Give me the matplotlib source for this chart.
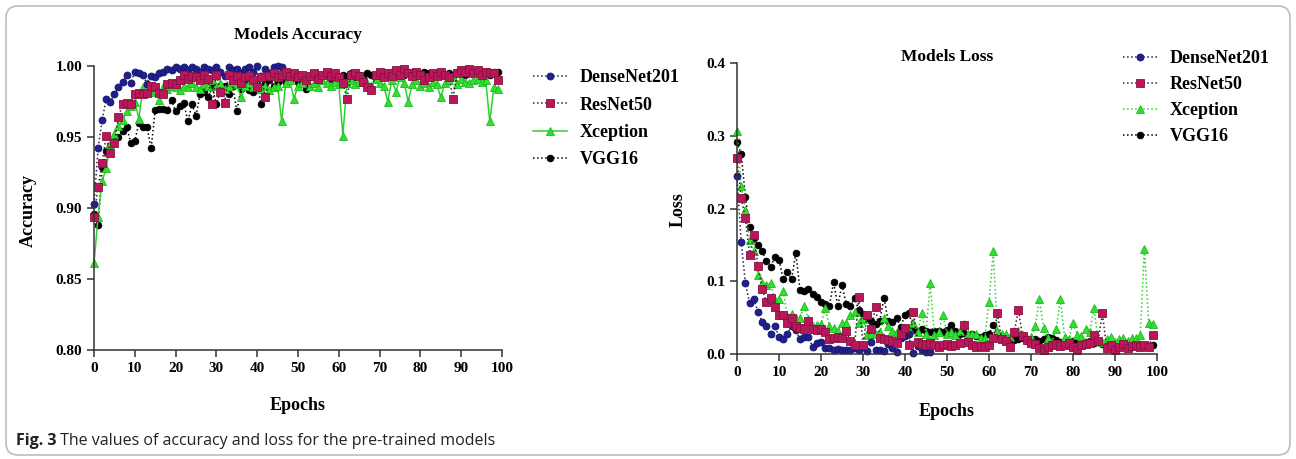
import matplotlib
matplotlib.use("Agg")
import matplotlib.pyplot as plt
from matplotlib.patches import FancyBboxPatch
from matplotlib.transforms import IdentityTransform

# ---- data ----
MODELS = ["DenseNet201", "ResNet50", "Xception", "VGG16"]

dense_acc = [0.903, 0.942, 0.962, 0.977, 0.975, 0.980, 0.985, 0.989, 0.994, 0.988,
             0.996, 0.995, 0.994, 0.987, 0.993, 0.992, 0.995, 0.996, 0.998, 0.997,
             0.999, 0.998, 0.999, 0.997, 0.999, 0.998, 0.996, 0.999, 0.998, 0.997,
             0.999, 0.996, 0.993, 0.999, 0.997, 0.998, 0.995, 0.998, 0.999, 0.996,
             1.000, 0.993, 0.998, 0.995, 0.999, 1.000, 0.999]
resnet_acc = [0.894, 0.915, 0.932, 0.951, 0.939, 0.946, 0.964, 0.973, 0.974, 0.973,
              0.980, 0.981, 0.980, 0.981, 0.986, 0.985, 0.981, 0.980, 0.987, 0.988,
              0.987, 0.990, 0.994, 0.991, 0.993, 0.992, 0.990, 0.994, 0.991, 0.973,
              0.994, 0.982, 0.974, 0.994, 0.990, 0.993, 0.988, 0.992, 0.993, 0.990,
              0.985, 0.992, 0.978, 0.993, 0.995, 0.992, 0.994, 0.996, 0.993, 0.995,
              0.992, 0.994, 0.990, 0.993, 0.995, 0.991, 0.994, 0.996, 0.993, 0.995,
              0.992, 0.988, 0.977, 0.994, 0.995, 0.993, 0.989, 0.985, 0.983, 0.994,
              0.996, 0.992, 0.995, 0.993, 0.997, 0.994, 0.998, 0.995, 0.993, 0.996,
              0.994, 0.990, 0.992, 0.995, 0.993, 0.996, 0.994, 0.992, 0.977, 0.995,
              0.997, 0.996, 0.998, 0.995, 0.997, 0.994, 0.996, 0.995, 0.995, 0.990]
xception_acc = [0.861, 0.894, 0.919, 0.928, 0.945, 0.952, 0.958, 0.962, 0.968, 0.972,
                0.975, 0.963, 0.985, 0.988, 0.982, 0.983, 0.976, 0.985, 0.984, 0.986,
                0.985, 0.983, 0.986, 0.985, 0.988, 0.985, 0.984, 0.987, 0.986, 0.990,
                0.986, 0.988, 0.984, 0.986, 0.989, 0.987, 0.978, 0.986, 0.988, 0.985,
                0.987, 0.984, 0.986, 0.983, 0.985, 0.986, 0.961, 0.988, 0.990, 0.977,
                0.986, 0.988, 0.990, 0.986, 0.988, 0.985, 0.990, 0.988, 0.986, 0.989,
                0.987, 0.951, 0.988, 0.990, 0.987, 0.989, 0.991, 0.988, 0.986, 0.991,
                0.988, 0.986, 0.975, 0.990, 0.982, 0.992, 0.988, 0.975, 0.987, 0.990,
                0.986, 0.988, 0.985, 0.989, 0.987, 0.978, 0.988, 0.990, 0.992, 0.987,
                0.991, 0.989, 0.988, 0.990, 0.991, 0.989, 0.990, 0.961, 0.985, 0.984]
vgg_acc = [0.896, 0.888, 0.929, 0.940, 0.944, 0.948, 0.950, 0.954, 0.957, 0.946,
           0.947, 0.960, 0.957, 0.957, 0.942, 0.969, 0.970, 0.970, 0.969, 0.976,
           0.968, 0.972, 0.974, 0.961, 0.973, 0.965, 0.980, 0.982, 0.978, 0.985,
           0.973, 0.983, 0.986, 0.980, 0.986, 0.968, 0.984, 0.988, 0.983, 0.982,
           0.987, 0.973, 0.988, 0.990, 0.986, 0.989, 0.991, 0.988, 0.990, 0.992,
           0.989, 0.991, 0.984, 0.992, 0.993, 0.990, 0.992, 0.994, 0.991, 0.993,
           0.992, 0.994, 0.993, 0.995, 0.992, 0.994, 0.993, 0.995, 0.994, 0.992,
           0.995, 0.993, 0.994, 0.996, 0.993, 0.995, 0.994, 0.996, 0.993, 0.995,
           0.994, 0.996, 0.995, 0.993, 0.995, 0.996, 0.994, 0.995, 0.993, 0.996,
           0.995, 0.994, 0.996, 0.995, 0.997, 0.995, 0.996, 0.994, 0.996, 0.996]

dense_loss = [0.244, 0.154, 0.097, 0.070, 0.076, 0.058, 0.044, 0.038, 0.028, 0.038,
              0.024, 0.021, 0.028, 0.038, 0.033, 0.020, 0.024, 0.023, 0.010, 0.015,
              0.016, 0.008, 0.008, 0.006, 0.007, 0.005, 0.005, 0.006, 0.008, 0.006,
              0.010, 0.004, 0.017, 0.006, 0.005, 0.004, 0.014, 0.008, 0.003, 0.022,
              0.025, 0.027, 0.002, 0.011, 0.006, 0.003, 0.003]
resnet_loss = [0.269, 0.214, 0.187, 0.136, 0.164, 0.121, 0.089, 0.072, 0.077, 0.065,
               0.054, 0.054, 0.043, 0.050, 0.039, 0.036, 0.034, 0.046, 0.034, 0.033,
               0.034, 0.030, 0.020, 0.022, 0.023, 0.022, 0.031, 0.018, 0.012, 0.078,
               0.013, 0.054, 0.035, 0.065, 0.022, 0.020, 0.019, 0.018, 0.015, 0.028,
               0.036, 0.012, 0.058, 0.016, 0.014, 0.012, 0.015, 0.013, 0.010, 0.012,
               0.014, 0.011, 0.012, 0.015, 0.040, 0.017, 0.013, 0.010, 0.011, 0.010,
               0.012, 0.022, 0.056, 0.020, 0.018, 0.009, 0.030, 0.060, 0.025, 0.019,
               0.015, 0.014, 0.008, 0.006, 0.009, 0.012, 0.014, 0.011, 0.013, 0.015,
               0.010, 0.006, 0.012, 0.014, 0.015, 0.026, 0.018, 0.056, 0.008, 0.012,
               0.006, 0.010, 0.014, 0.008, 0.011, 0.013, 0.009, 0.012, 0.010, 0.026]
xception_loss = [0.307, 0.231, 0.198, 0.157, 0.141, 0.109, 0.098, 0.095, 0.097, 0.074,
                 0.075, 0.086, 0.052, 0.055, 0.050, 0.050, 0.066, 0.048, 0.039, 0.040,
                 0.041, 0.063, 0.038, 0.036, 0.031, 0.042, 0.043, 0.054, 0.058, 0.042,
                 0.048, 0.026, 0.028, 0.027, 0.030, 0.049, 0.038, 0.032, 0.030, 0.028,
                 0.030, 0.035, 0.042, 0.030, 0.056, 0.028, 0.098, 0.026, 0.030, 0.054,
                 0.028, 0.030, 0.026, 0.032, 0.041, 0.028, 0.027, 0.028, 0.022, 0.022,
                 0.071, 0.141, 0.031, 0.027, 0.028, 0.023, 0.031, 0.031, 0.026, 0.022,
                 0.024, 0.038, 0.075, 0.036, 0.022, 0.017, 0.035, 0.075, 0.024, 0.020,
                 0.043, 0.026, 0.025, 0.035, 0.030, 0.063, 0.018, 0.016, 0.020, 0.024,
                 0.016, 0.020, 0.022, 0.018, 0.022, 0.022, 0.026, 0.145, 0.043, 0.041]
vgg_loss = [0.292, 0.275, 0.216, 0.175, 0.160, 0.150, 0.141, 0.128, 0.119, 0.134,
            0.129, 0.103, 0.113, 0.103, 0.139, 0.088, 0.086, 0.089, 0.083, 0.079,
            0.071, 0.069, 0.066, 0.099, 0.066, 0.095, 0.069, 0.066, 0.077, 0.060,
            0.055, 0.049, 0.045, 0.041, 0.046, 0.077, 0.045, 0.044, 0.049, 0.037,
            0.054, 0.056, 0.033, 0.032, 0.034, 0.031, 0.030, 0.032, 0.031, 0.030,
            0.033, 0.040, 0.031, 0.028, 0.029, 0.026, 0.028, 0.025, 0.024, 0.026,
            0.028, 0.040, 0.027, 0.024, 0.022, 0.021, 0.019, 0.020, 0.022, 0.018,
            0.019, 0.020, 0.018, 0.020, 0.024, 0.022, 0.019, 0.017, 0.018, 0.016,
            0.018, 0.015, 0.017, 0.016, 0.018, 0.015, 0.016, 0.014, 0.015, 0.016,
            0.014, 0.015, 0.013, 0.014, 0.012, 0.013, 0.012, 0.013, 0.011, 0.012]

acc_ticks = [0.80, 0.85, 0.90, 0.95, 1.00]
loss_ticks = [0.0, 0.1, 0.2, 0.3, 0.4]
epoch_ticks = list(range(0, 101, 10))

# marker colours and styles per model
STYLE = {
    "DenseNet201": dict(marker="o", mfc="#1f1f8f", mec="#14146a", ms=5.0),
    "ResNet50": dict(marker="s", mfc="#b8185a", mec="#8a1040", ms=5.2),
    "Xception": dict(marker="^", mfc="#2fe02f", mec="#22b822", ms=5.2),
    "VGG16": dict(marker="o", mfc="#000000", mec="#000000", ms=4.8),
}
LINE_COL = {"DenseNet201": "#20205a", "ResNet50": "#3a2030",
            "Xception": "#2fd02f", "VGG16": "#000000"}

plt.rcParams["font.family"] = ["Liberation Serif", "DejaVu Serif"]
plt.rcParams["font.weight"] = "bold"

fig = plt.figure(figsize=(12.96, 4.59), dpi=100)
W, H = 1296, 459

# rounded frame around the whole panel
frame = FancyBboxPatch((6, 4), W - 12, H - 10,
                       boxstyle="round,pad=0,rounding_size=12",
                       transform=IdentityTransform(), fill=False,
                       ec="#bdbdbd", lw=1.2)
fig.patches.append(frame)


def style_axes(ax):
    for side in ("top", "right"):
        ax.spines[side].set_visible(False)
    for side in ("left", "bottom"):
        ax.spines[side].set_linewidth(1.1)
        ax.spines[side].set_color("#333333")
    ax.tick_params(direction="out", length=5, width=1.1, colors="#333333",
                   labelsize=11, labelcolor="black")
    ax.set_xlim(0, 100)
    ax.set_xticks(epoch_ticks)
    for lab in ax.get_xticklabels() + ax.get_yticklabels():
        lab.set_fontweight("bold")


def draw(ax, series, xception_ls):
    # VGG underneath, ResNet on top, legend keeps the usual order
    hmap = {}
    for name in ["VGG16", "Xception", "DenseNet201", "ResNet50"]:
        ys = series[name]
        ls = xception_ls if name == "Xception" else ":"
        st = STYLE[name]
        h, = ax.plot(range(len(ys)), ys, linestyle=ls, lw=1.1,
                     color=LINE_COL[name], marker=st["marker"], ms=st["ms"],
                     mfc=st["mfc"], mec=st["mec"], mew=0.6, clip_on=False,
                     label=name)
        hmap[name] = h
    return [hmap[name] for name in MODELS]


# ---- accuracy panel ----
ax1 = fig.add_axes([94 / W, 1 - 350 / H, 408 / W, 284 / H])
h1 = draw(ax1, {"DenseNet201": dense_acc, "ResNet50": resnet_acc,
                "Xception": xception_acc, "VGG16": vgg_acc}, "-")
ax1.set_ylim(0.80, 1.00)
ax1.set_yticks(acc_ticks)
ax1.set_yticklabels([f"{t:.2f}" for t in acc_ticks])
style_axes(ax1)
ax1.set_ylabel("Accuracy", fontsize=13, fontweight="bold")
ax1.yaxis.set_label_coords(-0.14, 0.49)
ax1.set_xlabel("Epochs", fontsize=13, fontweight="bold")
ax1.xaxis.set_label_coords(0.5, -0.165)
fig.text(298 / W, 1 - 35 / H, "Models Accuracy", ha="center", va="center",
         fontsize=12.5, fontweight="bold")
fig.legend(handles=h1, labels=MODELS, loc="upper left",
           bbox_to_anchor=(524 / W, 1 - 60 / H), frameon=False,
           prop=dict(size=13, weight="bold"), handlelength=1.9,
           handletextpad=0.7, labelspacing=0.58, borderpad=0)

# ---- loss panel ----
ax2 = fig.add_axes([737 / W, 1 - 354 / H, 420 / W, 291 / H])
h2 = draw(ax2, {"DenseNet201": dense_loss, "ResNet50": resnet_loss,
                "Xception": xception_loss, "VGG16": vgg_loss}, ":")
ax2.set_ylim(0, 0.4)
ax2.set_yticks(loss_ticks)
ax2.set_yticklabels(["0.0", "0.1", "0.2", "0.3", "0.4"])
style_axes(ax2)
ax2.set_ylabel("Loss", fontsize=13, fontweight="bold")
ax2.yaxis.set_label_coords(-0.119, 0.495)
ax2.set_xlabel("Epochs", fontsize=13, fontweight="bold")
ax2.xaxis.set_label_coords(0.5, -0.168)
fig.text(947 / W, 1 - 57 / H, "Models Loss", ha="center", va="center",
         fontsize=12.5, fontweight="bold")
fig.legend(handles=h2, labels=MODELS, loc="upper left",
           bbox_to_anchor=(1114 / W, 1 - 41 / H), frameon=False,
           prop=dict(size=13, weight="bold"), handlelength=1.9,
           handletextpad=0.7, labelspacing=0.5, borderpad=0)

# ---- caption ----
cap = fig.text(16 / W, 1 - 441 / H, "Fig. 3", ha="left", va="center",
               fontsize=11.5, fontweight="bold", family="Open Sans",
               color="#222222")
plt.annotate(" The values of accuracy and loss for the pre-trained models",
             xy=(1, 0.5), xycoords=cap, va="center", ha="left",
             fontsize=11.5, fontweight="normal", family="Open Sans",
             color="#222222")

fig.savefig("out.png", dpi=100)
